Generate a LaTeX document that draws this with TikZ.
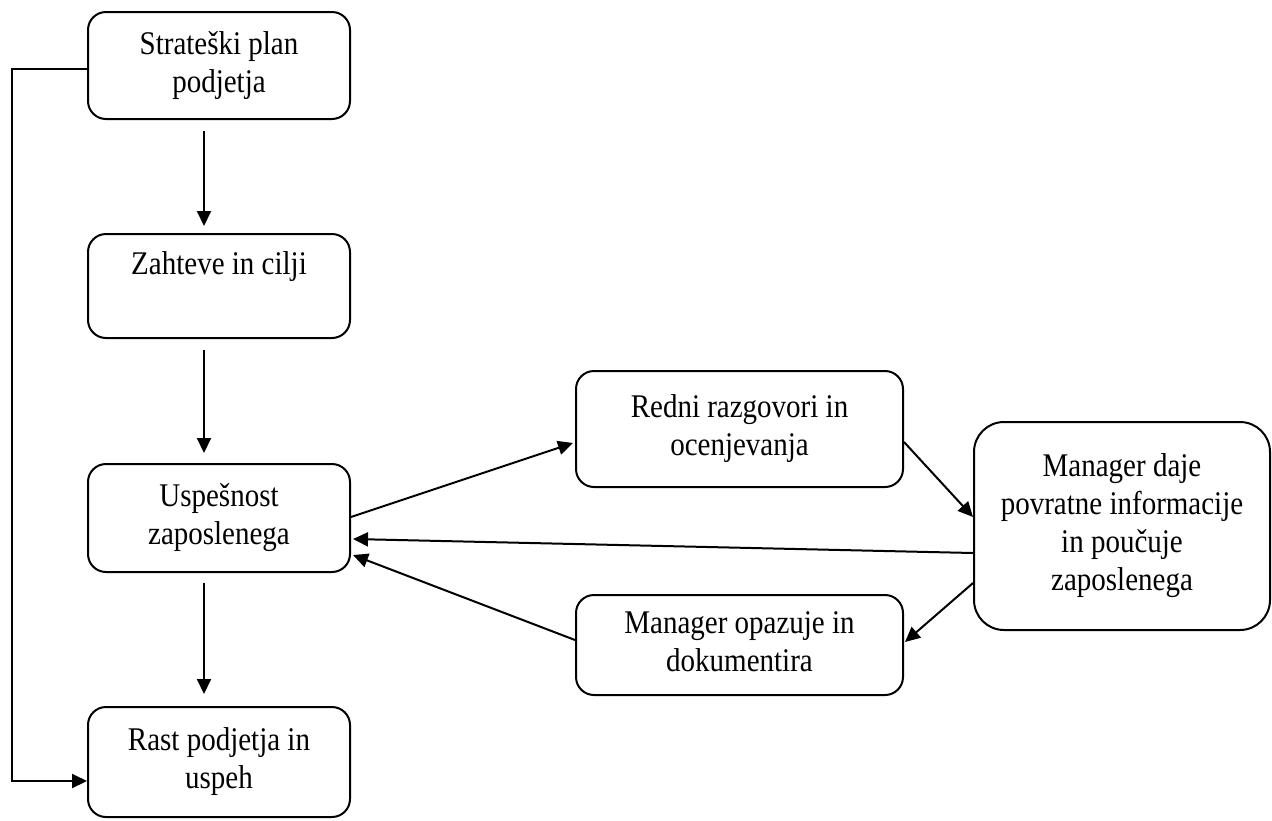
\documentclass[tikz,border=0pt]{standalone}
\usepackage{fontspec}
\usepackage{graphicx}
\setmainfont{Liberation Serif}
\usetikzlibrary{arrows.meta}
\newcommand{\boxtext}[1]{\scalebox{1}[1.14]{\fontsize{29}{33.3}\selectfont\begin{tabular}{@{}c@{}}#1\end{tabular}}}
\begin{document}
\begin{tikzpicture}[x=1pt,y=-1pt,
  box/.style={draw, line width=2pt, rounded corners=18pt, align=center, inner sep=0pt},
  arr/.style={line width=2pt, -{Triangle[length=15pt,width=14pt]}}]
\useasboundingbox (0,0) rectangle (1272,820);
\node[box, minimum width=262pt, minimum height=107pt] (b1) at (219,65.5) {\boxtext{Strateški plan\\podjetja}};
\node[box, minimum width=262pt, minimum height=104pt] (b2) at (219,286) {\boxtext{Zahteve in cilji\\\mbox{}}};
\node[box, minimum width=262pt, minimum height=108pt] (b3) at (219,518) {\boxtext{Uspešnost\\zaposlenega}};
\node[box, minimum width=262pt, minimum height=110pt] (b4) at (219,762) {\boxtext{Rast podjetja in\\uspeh}};
\node[box, minimum width=327pt, minimum height=116pt] (b5) at (739.5,429) {\boxtext{Redni razgovori in\\ocenjevanja}};
\node[box, minimum width=296pt, minimum height=208pt, rounded corners=30pt] (b6) at (1122,526) {\boxtext{Manager daje\\povratne informacije\\in poučuje\\zaposlenega}};
\node[box, minimum width=327pt, minimum height=100pt] (b7) at (739.5,645) {\boxtext{Manager opazuje in\\dokumentira}};
\coordinate (lt) at (12,69);
\coordinate (lb) at (12,781);
% vertical flow
\draw[arr] ([xshift=-15pt,yshift=-11pt]b1.south) -- ([xshift=-15pt,yshift=7pt]b2.north);
\draw[arr] ([xshift=-15pt,yshift=-11pt]b2.south) -- ([xshift=-15pt,yshift=10pt]b3.north);
\draw[arr] ([xshift=-15pt,yshift=-10pt]b3.south) -- ([xshift=-15pt,yshift=12pt]b4.north);
% loop
\draw[arr] ([yshift=-3.5pt]b1.west) -- (lt) -- (lb) -- ([yshift=-19pt]b4.west);
% cycle
\draw[arr] ([yshift=1pt]b3.east) -- ([yshift=-14pt,xshift=-2pt]b5.west);
\draw[arr] ([yshift=-13pt]b5.east) -- ([yshift=9pt]b6.west);
\draw[arr] ([yshift=-27pt]b6.west) -- ([yshift=-21pt,xshift=2pt]b3.east);
\draw[arr] ([yshift=-57pt]b6.west) -- ([yshift=3pt,xshift=1pt]b7.east);
\draw[arr] ([yshift=5pt]b7.west) -- ([yshift=-37pt,xshift=2pt]b3.east);
\end{tikzpicture}
\end{document}
